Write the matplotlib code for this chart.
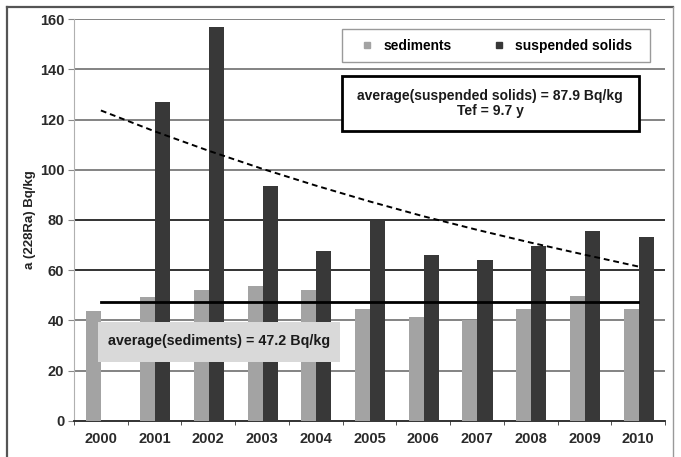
import matplotlib
matplotlib.use("Agg")
import matplotlib.pyplot as plt
from matplotlib.patches import Rectangle
from matplotlib.lines import Line2D
import numpy as np

plt.rcParams["font.family"] = ["Liberation Sans", "DejaVu Sans"]
plt.rcParams["font.weight"] = "bold"

years = ["2000", "2001", "2002", "2003", "2004", "2005",
         "2006", "2007", "2008", "2009", "2010"]
sediments = [43.7, 49.2, 52.0, 53.6, 52.0, 44.6, 41.3, 40.0, 44.6, 49.6, 44.6]
suspended = [np.nan, 127, 157, 93.5, 67.5, 79.5, 66, 64, 69.5, 75.8, 73.3]
# exponential trend of suspended solids
trend = [123.6, 115.3, 107.6, 100.4, 93.7, 87.4, 81.5, 76.1, 71.0, 66.2, 61.5]
avg_sediments = 47.2
avg_suspended = 87.9
tef = 9.7
yticks = [0, 20, 40, 60, 80, 100, 120, 140, 160]
dark_grid = [60, 80]

c_sed = "#a3a3a3"
c_sus = "#383838"

fig = plt.figure(figsize=(6.81, 4.57), dpi=100)
ax = fig.add_axes([0.1087, 0.0788, 0.8678, 0.8796])

x = np.arange(len(years))
w = 0.28
ax.bar(x - 0.13, sediments, w, color=c_sed, zorder=3)
ax.bar(x + 0.15, suspended, w, color=c_sus, zorder=3)

for v in yticks[1:]:
    ax.axhline(v, color="#222222" if v in dark_grid else "#7a7a7a",
               lw=1.3, zorder=1)

ax.plot(x, trend, color="black", lw=1.4, ls=(0, (3, 2)), zorder=4)
ax.plot([x[0], x[-1]], [avg_sediments, avg_sediments], color="black",
        lw=2, zorder=4)

ax.set_xlim(-0.5, len(years) - 0.5)
ax.set_ylim(0, 160)
ax.set_yticks(yticks)
ax.set_xticks(x)
ax.set_xticklabels(years)
ax.set_xticks(np.arange(-0.5, len(years), 1), minor=True)
ax.tick_params(axis="x", which="major", length=0, pad=8, labelsize=10.5,
               labelcolor="#2a2a2a")
ax.tick_params(axis="x", which="minor", length=3, color="#333333")
ax.tick_params(axis="y", length=4, color="#888888", pad=3, labelsize=10.5,
               labelcolor="#2a2a2a")
for lbl in ax.get_xticklabels() + ax.get_yticklabels():
    lbl.set_fontweight("bold")

for s in ["top", "right"]:
    ax.spines[s].set_visible(False)
ax.spines["left"].set_color("#b0b0b0")
ax.spines["bottom"].set_color("#222222")
ax.spines["bottom"].set_linewidth(1.3)

ax.set_ylabel("a (228Ra) Bq/kg", fontsize=9.5, fontweight="bold",
              labelpad=3, color="#222222")

# legend box
ax.add_patch(Rectangle((0.4535, 0.893), 0.521, 0.082, transform=ax.transAxes,
                       facecolor="white", edgecolor="#9a9a9a", lw=1,
                       zorder=6))
handles = [Line2D([], [], ls="none", marker="s", ms=4, color=c_sed),
           Line2D([], [], ls="none", marker="s", ms=4, color=c_sus)]
ax.legend(handles, ["sediments", "suspended solids"], ncol=2,
          loc="center", bbox_to_anchor=(0.716, 0.934), frameon=False,
          prop={"size": 9.9, "weight": "bold"}, handlelength=0.8,
          handletextpad=0.8, columnspacing=3.0).set_zorder(7)

# suspended solids annotation
ax.add_patch(Rectangle((0.4535, 0.722), 0.5025, 0.136, transform=ax.transAxes,
                       facecolor="white", edgecolor="black", lw=2, zorder=6))
ax.text(0.704, 0.79,
        "average(suspended solids) = %.1f Bq/kg\nTef = %.1f y"
        % (avg_suspended, tef),
        transform=ax.transAxes, ha="center", va="center", fontsize=10,
        fontweight="bold", linespacing=1.15, color="#1a1a1a", zorder=7)

# sediments annotation
ax.add_patch(Rectangle((0.0406, 0.1475), 0.409, 0.0995, transform=ax.transAxes,
                       facecolor="#d9d9d9", edgecolor="none", zorder=6))
ax.text(0.057, 0.198, "average(sediments) = %.1f Bq/kg" % avg_sediments,
        transform=ax.transAxes, ha="left", va="center", fontsize=10.3,
        fontweight="bold", color="#1a1a1a", zorder=7)

# scanned frame
fig.add_artist(Line2D([7 / 681, 7 / 681], [0, 1 - 7 / 457],
                      transform=fig.transFigure, color="#555555", lw=1.6))
fig.add_artist(Line2D([7 / 681, 673 / 681], [1 - 7 / 457, 1 - 7 / 457],
                      transform=fig.transFigure, color="#555555", lw=1.6))
fig.add_artist(Line2D([673 / 681, 673 / 681], [0, 1 - 7 / 457],
                      transform=fig.transFigure, color="#999999", lw=1))

fig.savefig("out.png", dpi=100)
